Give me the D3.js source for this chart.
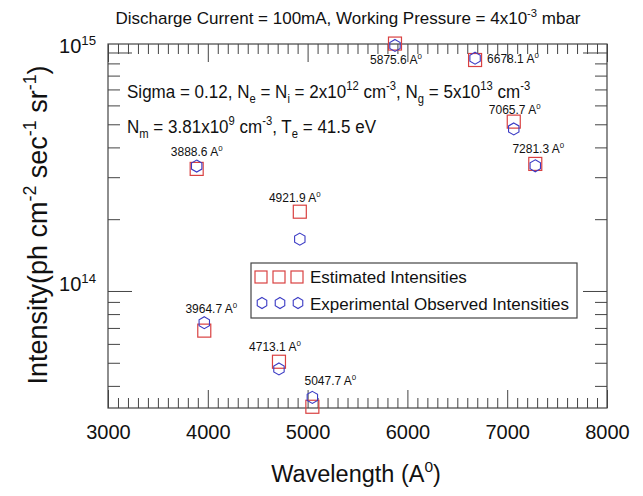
<!DOCTYPE html>
<html>
<head>
<meta charset="utf-8">
<script src="https://cdn.jsdelivr.net/npm/d3@7"></script>
<style>
  body { margin: 0; background: #fff; }
  svg text { font-family: "Liberation Sans", Arial, sans-serif; fill: #111; }
</style>
</head>
<body>
<svg id="chart" width="643" height="496"></svg>
<script>
// Line intensities: estimated (model) vs experimentally observed, per wavelength

var wavelengths = [3888.6, 3964.7, 4713.1, 4921.9, 5047.7, 5875.6, 6678.1, 7065.7, 7281.3];
var estimated   = [3.25e14, 6.82e13, 5.05e13, 2.15e14, 3.27e13, 1.09e15, 9.30e14, 5.13e14, 3.41e14];
var observed    = [3.34e14, 7.36e13, 4.71e13, 1.65e14, 3.58e13, 1.07e15, 9.46e14, 4.78e14, 3.35e14];

var xTicks = [3000, 4000, 5000, 6000, 7000, 8000];
var yTickExps = [14, 15];

// where each wavelength label sits relative to its markers [dx, dy, anchor]
var labelShift = [
  [0, -10, "middle"], [7, -10, "middle"], [-4, -11, "middle"], [-5, -10, "middle"],
  [18, -12, "middle"], [1, 20, "middle"], [12, 5, "start"], [1, -8, "middle"], [3, -11, "middle"]
];

var margin = {
  top:    44,
  right:  36,
  bottom: 88,
  left:   108
};

var svg = d3.select("#chart");
var plotWidth = 643 - margin.left - margin.right;
var plotHeight = 496 - margin.top - margin.bottom;

var lineColor = "#444";
var red = "#d94141";
var blue = "#3b3bc4";

// writes text with sub/superscript pieces: parts = [[text, "sup"|"sub"|""], ...]
function richText(sel, parts, size) {
  var shift = 0;
  parts.forEach(function(p) {
    var kind = p[1] || "";
    var target = kind == "sup" ? -0.42 * size : (kind == "sub" ? 0.28 * size : 0);
    sel.append("tspan")
      .attr("dy", target - shift)
      .attr("font-size", kind ? size * 0.66 : size)
      .text(p[0]);
    shift = target;
  });
}

var xScale = d3.scaleLinear()
  .domain([3000, 8000])
  .range([0, plotWidth]);

var yScale = d3.scaleLog()
  .domain([3.231e13, 1.0854e15])
  .range([plotHeight, 0]);

var xMinor = d3.range(3000, 8001, 100).filter(function(v) { return v % 1000 != 0; });
var yMinor = [];
[13, 14].forEach(function(e) {
  for (var k = 2; k <= 9; k++) {
    var v = k * Math.pow(10, e);
    if (v >= yScale.domain()[0] && v <= yScale.domain()[1]) yMinor.push(v);
  }
});
var yMajor = yTickExps.map(function(e) { return Math.pow(10, e); });

var plot = svg.append("g").attr("id", "plot")
  .attr("transform", "translate(" + margin.left + "," + margin.top + ")");

function styleAxis(g) {
  g.attr("color", lineColor).attr("font-family", null).attr("font-size", 20);
  g.selectAll(".domain").remove();
}

// bottom
plot.append("g").attr("transform", "translate(0," + plotHeight + ")")
  .call(d3.axisBottom(xScale).tickValues(xTicks).tickSize(-18).tickSizeOuter(0)
    .tickPadding(17).tickFormat(d3.format("d")))
  .call(styleAxis);
plot.append("g").attr("transform", "translate(0," + plotHeight + ")")
  .call(d3.axisBottom(xScale).tickValues(xMinor).tickSize(-10).tickFormat(""))
  .call(styleAxis);
// top
plot.append("g")
  .call(d3.axisTop(xScale).tickValues(xTicks).tickSize(-18).tickFormat(""))
  .call(styleAxis);
plot.append("g")
  .call(d3.axisTop(xScale).tickValues(xMinor).tickSize(-10).tickFormat(""))
  .call(styleAxis);
// left
var yLeft = plot.append("g")
  .call(d3.axisLeft(yScale).tickValues(yMajor).tickSize(-24).tickPadding(12).tickFormat(""))
  .call(styleAxis);
yLeft.selectAll(".tick text").each(function(d) {
  var t = d3.select(this).attr("dy", "0.62em");
  richText(t, [["10", ""], [String(Math.round(Math.log10(d))), "sup"]], 20);
});
plot.append("g")
  .call(d3.axisLeft(yScale).tickValues(yMinor).tickSize(-12).tickFormat(""))
  .call(styleAxis);
// right
plot.append("g").attr("transform", "translate(" + plotWidth + ",0)")
  .call(d3.axisRight(yScale).tickValues(yMajor).tickSize(-24).tickFormat(""))
  .call(styleAxis);
plot.append("g").attr("transform", "translate(" + plotWidth + ",0)")
  .call(d3.axisRight(yScale).tickValues(yMinor).tickSize(-12).tickFormat(""))
  .call(styleAxis);

plot.append("rect")
  .attr("width", plotWidth).attr("height", plotHeight)
  .attr("fill", "none").attr("stroke", lineColor).attr("stroke-width", 1.2);

// markers
var sq = 13;
function hexPath(r) {
  var pts = d3.range(6).map(function(i) {
    var a = Math.PI / 3 * i - Math.PI / 2;
    return [r * Math.cos(a), r * Math.sin(a)];
  });
  return "M" + pts.join("L") + "Z";
}

var rows = wavelengths.map(function(w, i) {
  return { w: w, est: estimated[i], obs: observed[i], shift: labelShift[i] };
});

plot.selectAll("rect.est").data(rows).enter().append("rect")
  .attr("class", "est")
  .attr("x", function(d) { return xScale(d.w) - sq / 2; })
  .attr("y", function(d) { return yScale(d.est) - sq / 2; })
  .attr("width", sq).attr("height", sq)
  .attr("fill", "none").attr("stroke", red).attr("stroke-width", 1.2);

plot.selectAll("path.obs").data(rows).enter().append("path")
  .attr("class", "obs")
  .attr("d", hexPath(6))
  .attr("transform", function(d) { return "translate(" + xScale(d.w) + "," + yScale(d.obs) + ")"; })
  .attr("fill", "none").attr("stroke", blue).attr("stroke-width", 1.1);

plot.selectAll("text.lbl").data(rows).enter().append("text")
  .attr("class", "lbl")
  .attr("x", function(d) { return xScale(d.w) + d.shift[0]; })
  .attr("y", function(d) { return Math.min(yScale(d.est), yScale(d.obs)) + d.shift[1]; })
  .attr("text-anchor", function(d) { return d.shift[2]; })
  .each(function(d) {
    richText(d3.select(this), [[d.w.toFixed(1) + " A", ""], ["0", "sup"]], 12);
  });

// legend
var legend = svg.append("g").attr("transform", "translate(251,263)");
legend.append("rect").attr("width", 326).attr("height", 55)
  .attr("fill", "#fff").attr("stroke", lineColor).attr("stroke-width", 1.2);
[10, 28, 46].forEach(function(cx) {
  legend.append("rect").attr("x", cx - 6).attr("y", 8).attr("width", 12).attr("height", 12)
    .attr("fill", "none").attr("stroke", red).attr("stroke-width", 1.2);
  legend.append("path").attr("d", hexPath(5.5))
    .attr("transform", "translate(" + (cx + 1) + ",40)")
    .attr("fill", "none").attr("stroke", blue).attr("stroke-width", 1.1);
});
legend.append("text").attr("x", 59).attr("y", 20).attr("font-size", 17).text("Estimated Intensities");
legend.append("text").attr("x", 59).attr("y", 47).attr("font-size", 17).text("Experimental Observed Intensities");

// title and notes
var title = svg.append("text").attr("x", 348).attr("y", 24).attr("text-anchor", "middle");
richText(title, [["Discharge Current = 100mA, Working Pressure = 4x10", ""], ["-3", "sup"], [" mbar", ""]], 17);

// the note lines are set in a slightly condensed face, so squeeze them horizontally
var note1 = svg.append("g").attr("transform", "translate(127,98) scale(0.92,1)").append("text");
richText(note1, [["Sigma = 0.12, N", ""], ["e", "sub"], [" = N", ""], ["i", "sub"], [" = 2x10", ""], ["12", "sup"],
  [" cm", ""], ["-3", "sup"], [", N", ""], ["g", "sub"], [" = 5x10", ""], ["13", "sup"], [" cm", ""], ["-3", "sup"]], 18.5);
var note2 = svg.append("g").attr("transform", "translate(127,133) scale(0.92,1)").append("text");
richText(note2, [["N", ""], ["m", "sub"], [" = 3.81x10", ""], ["9", "sup"], [" cm", ""], ["-3", "sup"],
  [", T", ""], ["e", "sub"], [" = 41.5 eV", ""]], 18.5);

// axis titles
var xTitle = svg.append("text").attr("x", 356).attr("y", 482).attr("text-anchor", "middle");
richText(xTitle, [["Wavelength (A", ""], ["0", "sup"], [")", ""]], 23.5);

var yTitle = svg.append("text").attr("transform", "translate(47,225) rotate(-90)").attr("text-anchor", "middle");
richText(yTitle, [["Intensity(ph cm", ""], ["-2", "sup"], [" sec", ""], ["-1", "sup"], [" sr", ""], ["-1", "sup"], [")", ""]], 27);
</script>
</body>
</html>
